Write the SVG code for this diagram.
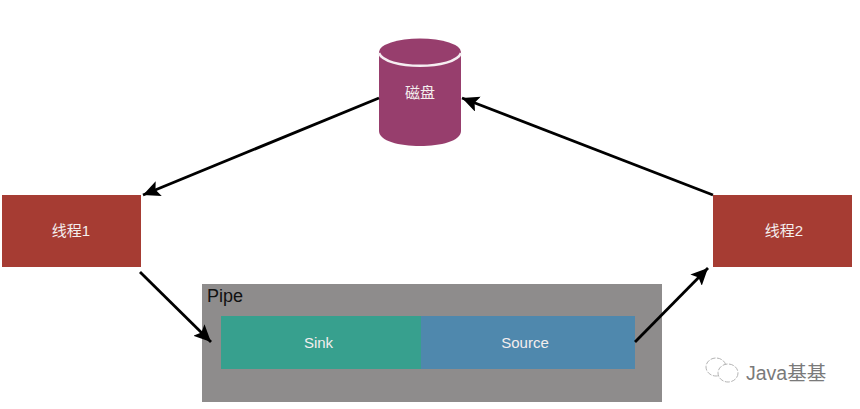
<svg xmlns="http://www.w3.org/2000/svg" width="860" height="409" viewBox="0 0 860 409">
<style>
text{font-family:"Liberation Sans","Noto Sans CJK SC",sans-serif;font-size:15px;fill:#f4eeee;text-anchor:middle}
.t{fill:#a63c33}
.c{stroke:#000;stroke-width:2.8;fill:none;marker-end:url(#a)}
</style>
<defs>
<marker id="a" markerUnits="userSpaceOnUse" markerWidth="22" markerHeight="18" refX="17" refY="8" orient="auto"><path d="M0 0L17 8L0 16L3.500 8Z" fill="#000"/></marker>
</defs>
<rect width="860" height="409" fill="#fff"/>
<g id="pipe">
<rect x="202" y="284" width="460" height="118" fill="#8e8c8c"/>
<text x="207" y="302" style="text-anchor:start;fill:#111;font-size:18px">Pipe</text>
</g>
<g id="sink">
<rect x="221" y="316" width="200" height="53" fill="#37a08e"/>
<text x="318.500" y="348">Sink</text>
</g>
<g id="source">
<rect x="421" y="316" width="214" height="53" fill="#4f88ad"/>
<text x="525" y="348">Source</text>
</g>
<g id="disk">
<path d="M379 52V131C379 151 461 151 461 131V52Z" fill="#973e6d"/>
<ellipse cx="420" cy="52" rx="41" ry="13.500" fill="#973e6d"/>
<path d="M379 53C385 70 455 70 461 53" fill="none" stroke="#f6eef2" stroke-width="2.400"/>
<text x="420" y="98">磁盘</text>
</g>
<g id="thread1">
<rect class="t" x="2" y="195" width="139" height="72"/>
<text x="71" y="236">线程1</text>
</g>
<g id="thread2">
<rect class="t" x="713" y="195" width="139" height="72"/>
<text x="784" y="236">线程2</text>
</g>
<g id="connectors">
<path class="c" d="M379 98L143 195"/>
<path class="c" d="M140 272L211 342"/>
<path class="c" d="M635 342L708 268"/>
<path class="c" d="M713 195L462 98"/>
</g>
<g id="watermark">
<g fill="#fff" stroke="#aaa" stroke-width="0.900" stroke-dasharray="5 1.500">
<ellipse cx="716" cy="367" rx="10" ry="9"/>
<ellipse cx="728" cy="373" rx="10" ry="9"/>
</g>
<text x="746" y="380" style="text-anchor:start;fill:#7a7a7a;font-size:19.500px">Java基基</text>
</g>
</svg>
